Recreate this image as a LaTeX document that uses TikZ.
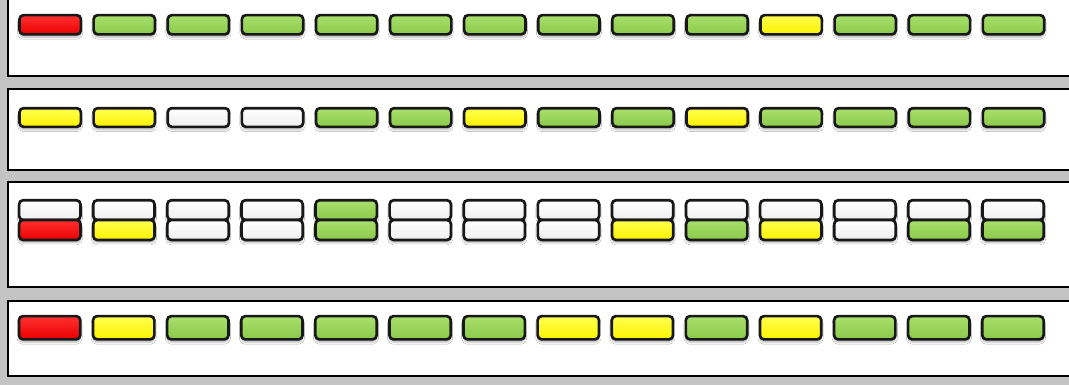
\documentclass[tikz,border=0pt]{standalone}
\usetikzlibrary{shadows.blur}
\definecolor{bg}{HTML}{C3C3C3}
\definecolor{gmain}{HTML}{8AC94A}
\definecolor{gtop}{HTML}{A9E06C}
\definecolor{rmain}{HTML}{EA0000}
\definecolor{rtop}{HTML}{FF3030}
\definecolor{ymain}{HTML}{FCF200}
\definecolor{ytop}{HTML}{FFFF50}
\definecolor{wmain}{HTML}{EFEFEF}
\definecolor{wtop}{HTML}{FFFFFF}
\definecolor{edge}{HTML}{181818}
\tikzset{
  panel/.style={draw=black, fill=white, line width=1.9pt},
  btn/.style={draw=edge, line width=2pt, rounded corners=3pt,
    minimum width=46pt, inner sep=0pt, outer sep=0pt,
    blur shadow={shadow xshift=0pt, shadow yshift=-2.2pt, shadow blur steps=5,
      shadow blur radius=1.4pt, shadow opacity=28}},
  btnc/.style={top color=#1top, bottom color=#1main},
}
\begin{document}
\begin{tikzpicture}[x=0.75pt,y=-0.75pt]
\useasboundingbox (0,0) rectangle (1069,385);
\clip (0,0) rectangle (1069,385);
\fill[bg] (0,0) rectangle (1069,385);
\draw[panel] (8,-10) rectangle (1085,76);
\draw[panel] (8,89) rectangle (1085,170);
\draw[panel] (8,182) rectangle (1085,287);
\draw[panel] (8,301) rectangle (1085,376);
% row 1
\foreach \c [count=\i from 0] in {r,g,g,g,g,g,g,g,g,g,y,g,g,g}
  \node[btn,btnc=\c,minimum height=14.4pt] (a\i) at ({50.2+74.1*\i},24.75) {};
% row 2
\foreach \c [count=\i from 0] in {y,y,w,w,g,g,y,g,g,y,g,g,g,g}
  \node[btn,btnc=\c,minimum height=14pt] (b\i) at ({50.2+74.1*\i},117.5) {};
% row 3
\foreach \t/\b [count=\i from 0] in {w/r,w/y,w/w,w/w,g/g,w/w,w/w,w/w,w/y,w/g,w/y,w/w,w/g,w/g}{
  \node[btn,btnc=\t,minimum height=14.8pt] (ct\i) at ({49.8+74.1*\i},210.1) {};
  \node[btn,btnc=\b,minimum height=15pt] (cb\i) at ({49.8+74.1*\i},230) {};
}
% row 4
\foreach \c [count=\i from 0] in {r,y,g,g,g,g,g,y,y,g,y,g,g,g}
  \node[btn,btnc=\c,minimum height=17.4pt] (d\i) at ({49.6+74.1*\i},327.75) {};
\end{tikzpicture}
\end{document}
